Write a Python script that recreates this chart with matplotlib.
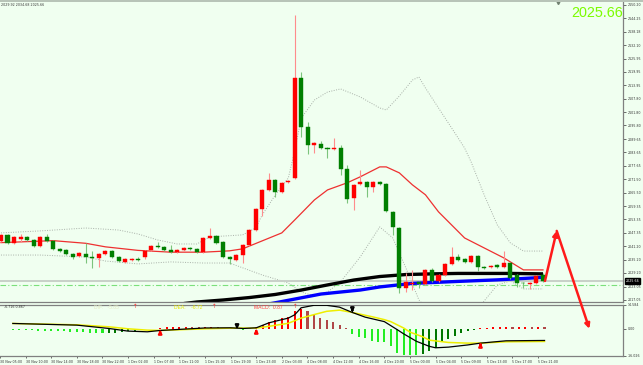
import numpy as np
import matplotlib.pyplot as plt
from matplotlib.patches import Rectangle, ConnectionPatch
import matplotlib.transforms as mtrans

# XAUUSD H1 bars (O, H, L, C)
opens = [2043.7, 2046.4, 2042.8, 2044.6, 2045.5, 2044.1, 2041.4, 2045.5, 2043.7, 2040.1,
         2039.6, 2037.8, 2036.9, 2037.8, 2036.5, 2036.0, 2037.8, 2039.2, 2036.5, 2034.2,
         2035.1, 2035.6, 2036.2, 2039.6, 2041.4, 2041.0, 2039.6, 2038.7, 2039.6, 2040.5,
         2040.1, 2038.7, 2045.0, 2046.0, 2043.2, 2036.5, 2035.1, 2037.4, 2041.9, 2048.7,
         2058.1, 2066.7, 2071.2, 2065.8, 2070.3, 2072.1, 2117.3, 2095.2, 2087.0, 2087.5,
         2085.7, 2085.2, 2085.7, 2076.2, 2063.1, 2069.4, 2070.3, 2068.1, 2070.3, 2069.4,
         2056.8, 2049.6, 2022.5, 2024.3, 2025.2, 2024.3, 2030.6, 2025.6, 2028.3, 2033.3,
         2036.5, 2035.6, 2034.2, 2036.9, 2032.0, 2032.0, 2032.9, 2032.0, 2033.8, 2028.3,
         2024.9, 2024.3, 2024.7, 2028.3]
highs = [2046.9, 2046.9, 2046.0, 2046.9, 2046.0, 2044.6, 2046.0, 2046.9, 2044.1, 2040.5,
         2040.1, 2038.3, 2038.7, 2042.8, 2039.2, 2038.3, 2039.6, 2039.6, 2036.9, 2036.0,
         2036.0, 2036.5, 2039.6, 2041.9, 2043.2, 2041.4, 2041.9, 2040.1, 2041.0, 2041.0,
         2040.5, 2045.5, 2049.6, 2046.4, 2043.7, 2036.9, 2037.8, 2042.3, 2049.1, 2058.6,
         2067.2, 2074.4, 2071.7, 2070.3, 2071.2, 2145.7, 2120.0, 2097.4, 2088.3, 2088.8,
         2086.1, 2090.2, 2087.0, 2078.0, 2069.4, 2075.7, 2070.8, 2070.8, 2070.8, 2069.9,
         2057.2, 2050.0, 2029.2, 2030.6, 2025.6, 2031.0, 2031.5, 2028.8, 2033.8, 2041.0,
         2037.8, 2036.0, 2037.4, 2037.4, 2032.4, 2032.9, 2033.3, 2039.2, 2034.2, 2028.8,
         2025.2, 2025.2, 2028.3, 2029.2]
lows = [2043.2, 2042.3, 2042.3, 2043.2, 2043.7, 2040.9, 2041.0, 2043.2, 2039.6, 2038.7,
        2037.4, 2035.6, 2036.5, 2033.8, 2031.5, 2032.0, 2037.4, 2036.0, 2034.2, 2033.8,
        2034.7, 2034.7, 2035.6, 2039.2, 2040.5, 2039.2, 2038.3, 2038.3, 2039.2, 2039.6,
        2038.3, 2038.3, 2044.6, 2042.3, 2036.0, 2033.3, 2034.7, 2033.8, 2041.4, 2048.2,
        2055.0, 2066.2, 2063.5, 2065.3, 2069.9, 2071.5, 2090.6, 2083.0, 2083.4, 2085.2,
        2081.2, 2084.8, 2073.5, 2060.8, 2057.7, 2069.0, 2063.6, 2065.8, 2069.0, 2056.8,
        2046.4, 2020.2, 2020.7, 2021.6, 2022.5, 2023.8, 2025.2, 2025.2, 2027.9, 2032.9,
        2034.7, 2033.8, 2033.8, 2030.1, 2031.0, 2031.5, 2031.5, 2031.5, 2026.5, 2022.9,
        2022.5, 2022.0, 2024.3, 2025.2]
closes = [2046.4, 2042.8, 2045.5, 2045.5, 2044.1, 2041.4, 2045.5, 2043.7, 2040.1, 2039.2,
          2037.8, 2036.5, 2038.3, 2036.5, 2036.0, 2037.8, 2039.2, 2036.5, 2034.7, 2035.6,
          2035.6, 2035.1, 2039.2, 2041.4, 2041.0, 2039.6, 2038.7, 2039.6, 2040.5, 2040.1,
          2038.7, 2045.0, 2046.0, 2042.8, 2036.5, 2035.6, 2037.4, 2041.9, 2048.7, 2058.1,
          2066.7, 2071.2, 2065.8, 2069.9, 2070.8, 2117.3, 2095.2, 2087.0, 2087.9, 2085.7,
          2085.2, 2085.7, 2076.2, 2062.7, 2069.0, 2070.3, 2068.1, 2070.3, 2069.4, 2057.2,
          2050.0, 2022.5, 2025.2, 2024.7, 2024.3, 2030.6, 2025.6, 2028.3, 2033.3, 2036.5,
          2035.1, 2034.2, 2036.9, 2032.0, 2031.5, 2032.4, 2032.0, 2033.8, 2027.0, 2024.7,
          2024.5, 2024.7, 2027.9, 2025.66]

# indicator lines (bar index, value) read at points along each curve
ma_idx = [0, 8, 13, 16, 21, 26, 31, 35, 37, 40, 43, 45, 48, 50, 53, 55, 58, 59, 61, 63,
          65, 67, 69, 71, 74, 77, 79, 80, 83]
ma_val = [2042.9, 2043.8, 2042.6, 2041.0, 2039.4, 2038.6, 2038.6, 2039.2, 2040.1, 2043.7,
          2047.3, 2053.2, 2062.2, 2066.7, 2069.9, 2072.6, 2077.1, 2077.1, 2074.4, 2069.0,
          2064.5, 2056.8, 2050.9, 2045.0, 2040.5, 2036.0, 2032.4, 2030.6, 2030.6]
bb_up_idx = [0, 6, 13, 18, 21, 24, 27, 30, 32, 37, 39, 40, 42, 44, 45, 46, 48, 50, 52, 55,
             58, 59, 61, 63, 64, 65, 67, 69, 71, 72, 74, 76, 78, 80, 83]
bb_up_val = [2047.3, 2048.2, 2049.5, 2048.6, 2046.8, 2044.1, 2042.3, 2042.3, 2045.5, 2046.4,
             2049.5, 2055.4, 2064.4, 2072.1, 2084.7, 2099.2, 2107.3, 2110.9, 2112.3, 2108.7,
             2103.7, 2102.8, 2109.1, 2116.3, 2117.7, 2112.7, 2103.7, 2094.7, 2085.6, 2079.3,
             2064.4, 2050.9, 2042.8, 2039.1, 2039.1]
bb_lo_idx = [0, 6, 13, 16, 21, 26, 31, 35, 40, 44, 46, 48, 50, 52, 55, 58, 60, 62, 64, 66,
             69, 72, 74, 76, 78, 80, 83]
bb_lo_val = [2037.3, 2037.3, 2036.4, 2034.6, 2033.3, 2034.2, 2033.7, 2033.7, 2028.3, 2024.7,
             2020.6, 2018.8, 2020.6, 2025.2, 2036.4, 2050.0, 2045.0, 2031.5, 2017.0, 2010.7,
             2007.1, 2008.9, 2016.6, 2023.8, 2025.6, 2022.0, 2022.0]
slow_idx = [28, 30, 34, 38, 42, 46, 50, 54, 58, 62, 66, 70, 74, 78, 83]
slow_val = [2015.4, 2016.1, 2017.0, 2018.1, 2019.5, 2021.5, 2023.8, 2026.0, 2027.6, 2028.5,
            2028.8, 2029.0, 2029.0, 2029.0, 2028.8]
blue_idx = [41, 43, 49, 55, 58, 63, 70, 76, 83]
blue_val = [2015.2, 2016.3, 2019.7, 2021.5, 2022.9, 2024.5, 2025.4, 2026.1, 2027.2]

last_price = 2025.66
dashdot_price = 2023.8

price_ticks = [2150.20, 2144.25, 2138.18, 2132.10, 2125.95, 2119.95, 2113.95, 2107.80,
               2101.80, 2095.80, 2089.65, 2083.65, 2077.65, 2071.50, 2065.50, 2059.35,
               2053.35, 2047.35, 2041.20, 2035.20, 2029.20, 2023.05, 2017.05]

# MACD panel
hist = [-0.8, -0.9, -1.0, -1.0, -1.1, -1.2, -1.3, -1.4, -1.6, -1.8,
        -2.0, -2.2, -2.4, -2.5, -2.6, -2.5, -2.3, -2.0, -1.6, -1.2,
        -0.8, -0.4, -0.2, 0.4, 0.8, 1.0, 1.1, 1.2, 1.1, 1.0,
        1.0, 1.2, 1.1, 0.6, 0.2, -0.3, -0.5, 0.2, 1.0, 2.5,
        4.3, 5.3, 6.3, 7.0, 10.5, 12.0, 10.5, 8.3, 6.5, 5.3,
        4.3, 2.2, 0.3, -3.0, -4.7, -5.5, -7.2, -8.2, -8.2, -10.3,
        -14.5, -15.5, -15.5, -15.9, -15.1, -13.4, -11.4, -8.2, -6.2, -4.1,
        -2.6, -1.4, -0.8, 0.3, 0.6, 0.8, 0.9, 1.0, 0.9, 0.9,
        0.9, 0.8, 0.9, 0.87]
dif_idx = [0, 10, 15, 18, 21, 23, 30, 34, 36, 38, 40, 42, 43, 44, 45, 47, 49, 51, 53, 55,
           58, 60, 61, 63, 65, 66, 68, 71, 73, 77, 83]
dif_val = [3.2, 2.2, 0.2, -1.4, -1.8, -1.0, 0.5, 0.6, 0.2, 0.6, 3.6, 5.5, 6.4, 8.4, 12.6,
           14.1, 14.1, 13.0, 9.8, 7.0, 4.3, -0.5, -3.0, -7.5, -10.5, -11.4, -11.0, -9.7,
           -8.6, -7.2, -7.0]
dea_idx = [0, 10, 15, 18, 21, 23, 30, 34, 36, 38, 40, 43, 45, 47, 49, 51, 53, 56, 58, 59,
           61, 62, 64, 65, 68, 71, 73, 77, 83]
dea_val = [3.2, 2.4, 1.2, 0.0, -0.8, -1.0, 0.0, 0.4, 0.4, 0.4, 1.5, 3.3, 6.4, 8.5, 10.5,
           11.2, 9.8, 7.3, 5.5, 4.3, 0.5, -2.0, -4.8, -6.8, -8.2, -8.6, -8.6, -7.8, -7.6]
macd_min, macd_max = -16.026, 14.584
up_arrows = [(23, -4.2, 1.1), (38, -3.6, 1.7), (73, -11.4, -6.7)]
down_arrows = [(35, 4.0, -1.9), (53, 13.0, 8.3)]

time_pos = [-2, 2, 6, 10, 14, 18, 22, 26, 30, 34, 38, 42, 46, 50, 54, 58, 62, 66, 70, 74, 78, 82]
time_lbl = ['30 Nov 05:00', '30 Nov 10:00', '30 Nov 14:00', '30 Nov 18:00', '30 Nov 22:00',
            '1 Dec 02:00', '1 Dec 07:00', '1 Dec 11:00', '1 Dec 15:00', '1 Dec 19:00',
            '1 Dec 23:00', '2 Dec 03:00', '4 Dec 08:00', '4 Dec 12:00', '4 Dec 16:00',
            '4 Dec 20:00', '5 Dec 00:00', '5 Dec 04:00', '5 Dec 09:00', '5 Dec 13:00',
            '5 Dec 17:00', '5 Dec 21:00']

# projection arrow drawn by the EA: start, peak (main panel), end (macd panel)
proj_x = [83.3, 85.1, 90.0]
proj_y = [2025.6, 2048.2, 0.0]

bg = '#f0fff0'
axis_col = '#808080'
tiny = 2.3

fig = plt.figure(figsize=(6.43, 3.65), dpi=100)
fig.patch.set_facecolor(bg)
W, H = 643, 365
ax = fig.add_axes([0, 63 / H, 623 / W, 300 / H])
axm = fig.add_axes([0, 9.5 / H, 623 / W, 51 / H])
fig.add_artist(Rectangle((0, 1 - 2 / H), 1, 2 / H, transform=fig.transFigure,
                         facecolor='#b8c4b8', edgecolor='none'))

xlim = (-0.15, 95.25)
for a in (ax, axm):
    a.set_facecolor(bg)
    a.set_xlim(*xlim)
    for s in ('left', 'top'):
        a.spines[s].set_visible(False)
    for s in ('right', 'bottom'):
        a.spines[s].set_color(axis_col)
        a.spines[s].set_linewidth(0.9)
    a.yaxis.tick_right()
    a.tick_params(axis='y', labelsize=tiny, colors='#333333', length=2, width=0.5, pad=1.5)
axm.spines['top'].set_visible(True)
axm.spines['top'].set_color(axis_col)
axm.spines['top'].set_linewidth(0.9)

ax.set_ylim(2016.1, 2151.55)
ax.set_xticks([])
ax.set_yticks(price_ticks)
ax.set_yticklabels(['%.2f' % t for t in price_ticks])

# bollinger bands, ma, slow lines
ax.plot(bb_up_idx, bb_up_val, color='#a8b0a8', lw=0.7, ls=(0, (1, 1.5)))
ax.plot(bb_lo_idx, bb_lo_val, color='#a8b0a8', lw=0.7, ls=(0, (1, 1.5)))
ax.plot(ma_idx, ma_val, color='#ee3030', lw=0.9)
ax.axhline(last_price, color='#c8d0c8', lw=1.4)
ax.axhline(dashdot_price, color='#7be07b', lw=0.8, ls=(0, (5, 2, 1, 2)))
ax.plot(slow_idx, slow_val, color='black', lw=2.4, solid_capstyle='butt')
ax.plot(blue_idx, blue_val, color='#0000ff', lw=2.4, solid_capstyle='butt')

# candles: red = up, green = down
x = np.arange(len(opens))
o = np.array(opens); h = np.array(highs); l = np.array(lows); c = np.array(closes)
up = c >= o
body_col = np.where(up, '#ff0000', '#007f00')
wick_col = np.where(up, '#ff8c8c', '#7cc47c')
ax.vlines(x, l, h, colors=wick_col, lw=0.8, zorder=3)
ax.bar(x, np.maximum(np.abs(c - o), 0.35), bottom=np.minimum(o, c), width=0.62,
       color=body_col, edgecolor=body_col, linewidth=0.3, zorder=4)

# current price tag
ax.text(1.004, last_price, '%.2f' % last_price, transform=mtrans.blended_transform_factory(ax.transAxes, ax.transData),
        fontsize=tiny, color='white', va='center', ha='left',
        bbox=dict(boxstyle='square,pad=0.25', fc='black', ec='black'), clip_on=False)

ax.text(0.9995, 0.951, '%.2f' % last_price, transform=ax.transAxes, ha='right', va='baseline',
        fontsize=10.4, color='#7cfc00', family='Liberation Sans')
fig.text(0.002, 1 - 5.5 / H, '2029.92 2034.68 2025.66', fontsize=tiny, color='#333333',
         va='baseline', ha='left')
ax.plot([85.3], [1.0], marker='v', ms=3, color='#708070',
        transform=mtrans.blended_transform_factory(ax.transData, ax.transAxes), clip_on=False)

# MACD panel
axm.set_ylim(macd_min, macd_max)
axm.set_yticks([macd_max, 0, macd_min])
axm.set_yticklabels(['14.584', '0.00', '-16.026'])
hv = np.array(hist)
prev = np.concatenate([[hv[0]], hv[:-1]])
hcol = []
for v, p in zip(hv, prev):
    if v >= 0:
        hcol.append('#ff0000' if v >= p else '#b04848')
    else:
        hcol.append('#22ee22' if v <= p else '#007700')
axm.bar(x, hv, width=0.32, color=hcol, zorder=2)
axm.plot(dea_idx, dea_val, color='#eeee00', lw=1.1, zorder=3)
axm.plot(dif_idx, dif_val, color='black', lw=0.9, zorder=4)
for i, y0, y1 in up_arrows:
    axm.annotate('', xy=(i, y1), xytext=(i, y0),
                 arrowprops=dict(arrowstyle='-|>', color='red', lw=1.6, mutation_scale=4.5), zorder=5)
for i, y0, y1 in down_arrows:
    axm.annotate('', xy=(i, y1), xytext=(i, y0),
                 arrowprops=dict(arrowstyle='-|>', color='black', lw=1.6, mutation_scale=4.5), zorder=5)

axm.set_xticks(time_pos)
axm.set_xticklabels(time_lbl, fontsize=tiny, color='#333333', ha='left')
axm.tick_params(axis='x', length=1.5, width=0.5, pad=1.5, colors='#333333')

axm.text(0.006, 0.985, '-6.716 0.867', transform=axm.transAxes, fontsize=tiny,
         color='#333333', va='top', ha='left')
lab_y = 0.99
axm.text(12.6, lab_y, 'DIF:   -5.85', transform=mtrans.blended_transform_factory(axm.transData, axm.transAxes),
         fontsize=3.6, color='#e4ecc4', va='top', family='Liberation Sans')
axm.text(25.2, lab_y, 'DEA:    -6.72', transform=mtrans.blended_transform_factory(axm.transData, axm.transAxes),
         fontsize=3.6, color='#e6e600', va='top', family='Liberation Sans')
axm.text(37.7, lab_y, 'MACD:  0.87', transform=mtrans.blended_transform_factory(axm.transData, axm.transAxes),
         fontsize=3.6, color='#ff4040', va='top', family='Liberation Sans')
for xi in (19.1, 31.5, 44.1):
    axm.text(xi, 1.0, '\u2191', transform=mtrans.blended_transform_factory(axm.transData, axm.transAxes),
             fontsize=4, color='#ff3030', va='top', ha='center')

# projection arrow across both panels
arrow_kw = dict(arrowstyle='-|>', color='#ff1a1a', lw=1.8, mutation_scale=7)
fig.add_artist(ConnectionPatch((proj_x[0], proj_y[0]), (proj_x[1], proj_y[1]), 'data', 'data',
                               axesA=ax, axesB=ax, **arrow_kw))
fig.add_artist(ConnectionPatch((proj_x[1], proj_y[1]), (proj_x[2], proj_y[2]), 'data', 'data',
                               axesA=ax, axesB=axm, **arrow_kw))

fig.savefig('out.png', dpi=100, facecolor=bg)
